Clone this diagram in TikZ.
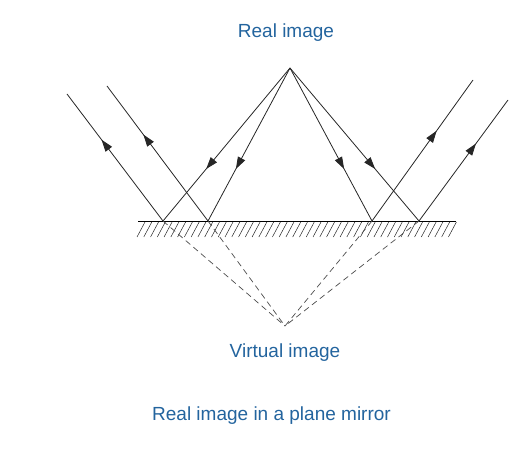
\documentclass[tikz,border=0pt]{standalone}
\usepackage{fontspec}
\setmainfont{Liberation Sans}
\usetikzlibrary{arrows.meta,decorations.markings}
\definecolor{labelblue}{RGB}{35,100,158}
\tikzset{
    ray/.style={draw=black!85, line width=0.8pt, postaction={decorate},
        decoration={markings, mark=at position #1 with {\arrow{Triangle[length=12pt,width=8pt]}}}},
    virtual/.style={draw=black!70, line width=0.7pt, dash pattern=on 6pt off 4pt},
    hatch/.style={draw=black!85, line width=0.5pt},
    mirrorline/.style={draw=black, line width=0.9pt},
    caption/.style={text=labelblue, anchor=base, font=\fontsize{19}{22}\selectfont}
}

\begin{document}
\begin{tikzpicture}[x=1pt, y=-1pt]
    \useasboundingbox (0,0) rectangle (528,454);
    % image points
    \coordinate (real) at (290,68);
    \coordinate (virt) at (285,326);
    % points on the mirror
    \coordinate (m1) at (163,221);
    \coordinate (m2) at (208,221);
    \coordinate (m3) at (372,221);
    \coordinate (m4) at (419,221);
    % outer ends of the rays
    \coordinate (e1) at (67,94);
    \coordinate (e2) at (107,86);
    \coordinate (e3) at (473,80);
    \coordinate (e4) at (508,100);

    % mirror
    \coordinate (mleft) at (138,221);
    \coordinate (mright) at (456,221);
    \foreach \h in {0,...,46}
        \draw[hatch] ({137+6.77*\h},237) -- ++(8,-15);
    \draw[mirrorline] (mleft) -- (mright);

    % rays
    \foreach \m/\e in {m1/e1, m2/e2, m3/e3, m4/e4} {
        \draw[ray=0.66] (real) -- (\m);
        \draw[ray=0.64] (\m) -- (\e);
        \draw[virtual] (\m) -- (virt);
    }

    % labels
    \node[caption] (reallabel) at (286,38) {Real image};
    \node[caption] (virtlabel) at (285,358) {Virtual image};
    \node[caption] (title) at (271.5,420.5) {Real image in a plane mirror};
\end{tikzpicture}
\end{document}
